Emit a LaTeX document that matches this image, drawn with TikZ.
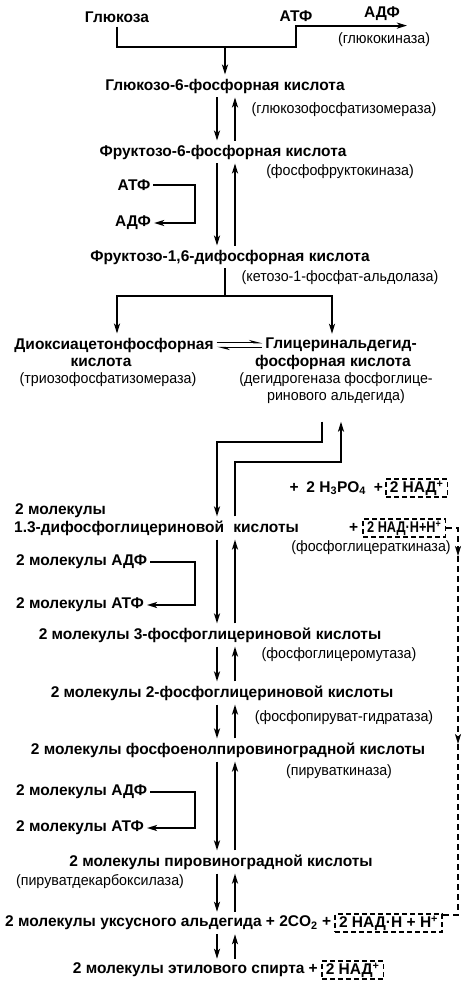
\documentclass[tikz,border=0pt]{standalone}
\usepackage{fontspec}
\setmainfont{Liberation Sans}
\newfontfamily\enzfont[FakeStretch=0.95]{Liberation Sans}
\newfontfamily\narrowfont[FakeStretch=0.82]{Liberation Sans}
\usetikzlibrary{arrows.meta,positioning}

\tikzset{
  cmp/.style={inner xsep=0pt, inner ysep=4pt, font=\bfseries\fontsize{15.5}{18}\selectfont},
  side/.style={cmp, inner xsep=3pt},
  enz/.style={inner sep=0pt, font=\enzfont\fontsize{15}{17}\selectfont},
  ln/.style={line width=1.8pt},
  rx/.style={ln, -{Stealth[length=10pt,width=6pt,inset=2.5pt]}},
  hp/.style={line width=1.5pt, -{Stealth[harpoon,length=10pt,width=5pt]}},
  nadbox/.style={draw, dash pattern=on 5pt off 3pt, line width=1.5pt, inner xsep=4pt, inner ysep=1.5pt, font=\bfseries\fontsize{15.5}{18}\selectfont},
  dsh/.style={dash pattern=on 6pt off 4pt, line width=1.5pt},
  dar/.style={dsh, -{Stealth[length=10pt,width=6pt,inset=2.5pt]}}
}

\begin{document}
\begin{tikzpicture}[x=1pt,y=-1pt]
\useasboundingbox (0,0) rectangle (471,1000);
% the two lanes of the chain
\coordinate (dn) at (217,0);
\coordinate (up) at (235,0);
\coordinate (br) at (195,0);

% hexoses
\node[cmp] (glu) at (117,17) {Глюкоза};
\node[cmp] (atp0) at (296,16) {АТФ};
\node[cmp] (adp0) at (382,14) {АДФ};
\node[enz] (gk) at (384,40) {(глюкокиназа)};
\node[cmp] (g6p) at (225,86) {Глюкозо-6-фосфорная кислота};
\node[enz] (e1) at (344,110) {(глюкозофосфатизомераза)};
\node[cmp] (f6p) at (223,152) {Фруктозо-6-фосфорная кислота};
\node[enz] (e2) at (340,172) {(фосфофруктокиназа)};
\node[side] (atp1) at (134,185) {АТФ};
\node[side] (adp1) at (133,223) {АДФ};
\node[cmp] (f16) at (230,257) {Фруктозо-1,6-дифосфорная кислота};
\node[enz] (e3) at (340,278) {(кетозо-1-фосфат-альдолаза)};

% trioses
\node[side] (dhap) at (114,345) {Диоксиацетонфосфорная};
\node[cmp] (dhapk) at (101,362) {кислота};
\node[enz] (e4) at (108,380) {(триозофосфатизомераза)};
\node[side] (gap) at (341,345) {Глицеринальдегид-};
\node[cmp] (gapk) at (333,362) {фосфорная кислота};
\node[enz, align=center] (e5) at (336,388) {(дегидрогеназа фосфоглице-\\ринового альдегида)};

% two molecules each
\node[cmp, anchor=east] (pi) at (383,488) {+\enspace 2 H\textsubscript{3}PO\textsubscript{4}\enspace +};
\node[nadbox, right=2pt of pi] (nad1) {2 НАД\textsuperscript{+}};
\node[cmp, anchor=west] (mol13) at (15,511) {2 молекулы};
\node[cmp, anchor=west] (dpg) at (14,528) {1.3-дифосфоглицериновой\hspace{5pt} кислоты\hspace{46pt} +};
\node[nadbox, right=4pt of dpg, font=\narrowfont\bfseries\fontsize{15.5}{18}\selectfont] (nadh1) {2 НАД·Н+Н\textsuperscript{+}};
\node[enz] (e6) at (371,548) {(фосфоглицераткиназа)};
\node[side, anchor=west] (adp2) at (13,562) {2 молекулы АДФ};
\node[side, anchor=west] (atp2) at (13,605) {2 молекулы АТФ};
\node[cmp] (pg3) at (210,635) {2 молекулы 3-фосфоглицериновой кислоты};
\node[enz] (e7) at (339,655) {(фосфоглицеромутаза)};
\node[cmp] (pg2) at (222,693) {2 молекулы 2-фосфоглицериновой кислоты};
\node[enz] (e8) at (344,718) {(фосфопируват-гидратаза)};
\node[cmp] (pep) at (228,750) {2 молекулы фосфоенолпировиноградной кислоты};
\node[enz] (e9) at (339,772) {(пируваткиназа)};
\node[side, anchor=west] (adp3) at (13,792) {2 молекулы АДФ};
\node[side, anchor=west] (atp3) at (13,828) {2 молекулы АТФ};
\node[cmp] (pyr) at (221,862) {2 молекулы пировиноградной кислоты};
\node[enz] (e10) at (100,882) {(пируватдекарбоксилаза)};
\node[cmp, anchor=west] (ald) at (5,923) {2 молекулы уксусного альдегида + 2CO\textsubscript{2} +};
\node[nadbox, right=3pt of ald] (nadh2) {2 НАД·Н + Н\textsuperscript{+}};
\node[cmp, anchor=east] (eth) at (318,970) {2 молекулы этилового спирта +};
\node[nadbox, right=3pt of eth] (nad2) {2 НАД\textsuperscript{+}};

% glucokinase step
\coordinate (j1) at (225,47);
\coordinate (gkend) at (407,28);
\draw[rx] (glu.south) |- (j1) -| (atp0.south) -- (atp0.south -| gkend);
\draw[rx] (j1) -- (g6p.north -| j1);

% reversible steps
\foreach \a/\b in {g6p/f6p, f6p/f16, dpg/pg3, pg3/pg2, pg2/pep, pep/pyr, pyr/ald, ald/eth}{
  \draw[rx] (\a.south -| dn) -- (\b.north -| dn);
  \draw[rx] (\b.north -| up) -- (\a.south -| up);
}

% ATP -> ADP and back
\draw[rx] (atp1.east) -| (br |- adp1) -- (adp1.east);
\draw[rx] (adp2.east) -| (br |- atp2) -- (atp2.east);
\draw[rx] (adp3.east) -| (br |- atp3) -- (atp3.east);

% aldolase split
\coordinate (j2) at (225,296);
\draw[ln] (f16.south -| j2) -- (j2);
\draw[rx] (j2) -| ([xshift=3pt]dhap.north);
\draw[rx] (j2) -| ([xshift=-9pt]gap.north);
\draw[hp] ([yshift=2.5pt]dhap.east) -- ([yshift=2.5pt]gap.west);
\draw[hp] ([yshift=-2.5pt]gap.west) -- ([yshift=-2.5pt]dhap.east);

% oxidation of the aldehyde
\coordinate (k1) at (0,442);
\coordinate (k2) at (0,462);
\coordinate (e5l) at ([xshift=-14pt,yshift=-18pt]e5.south);
\coordinate (e5r) at ([xshift=5pt,yshift=-18pt]e5.south);
\draw[rx] (e5l) |- (dn |- k1) -- (dn |- dpg.north);
\draw[rx] (up |- dpg.north) |- (e5r |- k2) -- (e5r);

% NADH carried down
\coordinate (da) at (458,556);
\coordinate (db) at (458,744);
\draw[dar] (nadh1.east) -| (da);
\draw[dar] (da) -- (db);
\draw[dsh] (db) |- ([yshift=8pt]nadh2.east);
\end{tikzpicture}
\end{document}
